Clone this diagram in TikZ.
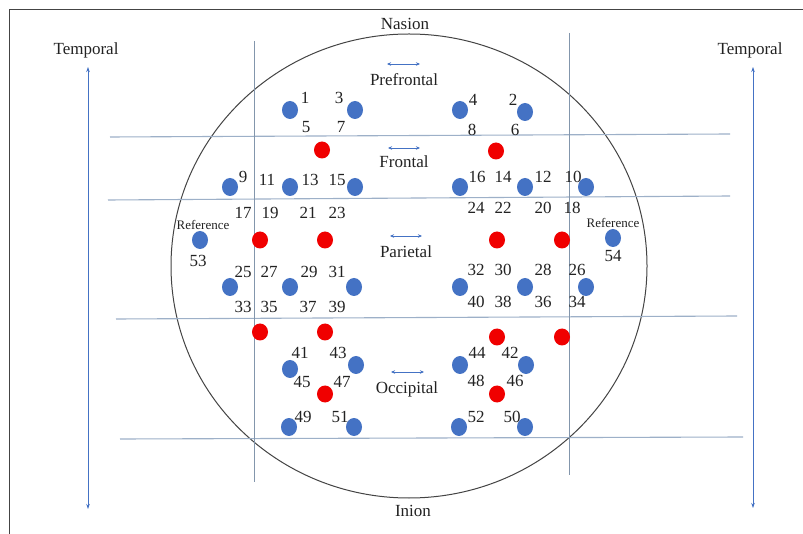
\documentclass[tikz,border=0pt]{standalone}
\usepackage{fontspec}
\setmainfont{Liberation Serif}
\usetikzlibrary{arrows.meta,shapes.geometric}
\definecolor{eblue}{HTML}{4472C4}
\definecolor{ered}{HTML}{F00000}
\definecolor{gridc}{HTML}{9DB0C8}
\definecolor{vgrid}{HTML}{8396AC}
\definecolor{framec}{HTML}{444444}
\definecolor{txt}{HTML}{222222}
\begin{document}
\begin{tikzpicture}[x=1pt,y=-1pt,
  dotb/.style={ellipse,fill=eblue,minimum width=16pt,minimum height=18pt,inner sep=0},
  dotr/.style={ellipse,fill=ered,minimum width=16pt,minimum height=17pt,inner sep=0},
  lbl/.style={font=\fontsize{17}{17}\selectfont,text=txt,inner sep=0},
  small/.style={font=\fontsize{13}{13}\selectfont,text=txt,inner sep=0},
  hline/.style={draw=gridc,line width=1.1pt},
  vline/.style={draw=vgrid,line width=0.9pt},
  tarrow/.style={draw=eblue,line width=0.7pt,{Stealth[length=5pt,width=3.5pt]}-{Stealth[length=5pt,width=3.5pt]}},
  rarrow/.style={draw=eblue,line width=0.7pt,{Stealth[length=4pt,width=3.5pt]}-{Stealth[length=4pt,width=3.5pt]}}
]
\useasboundingbox (0,0) rectangle (803,534);
\fill[white] (0,0) rectangle (803,534);
% frame (partial)
\coordinate (f1) at (9.5,534);
\coordinate (f2) at (9.5,9);
\coordinate (f3) at (803,9);
\draw[framec,line width=0.9pt] (f1) -- (f2) -- (f3);
% head outline
\draw[framec,line width=1pt] (409,266) ellipse [x radius=238, y radius=232];
% grid lines
\coordinate (h1a) at (110,137); \coordinate (h1b) at (730,134);
\coordinate (h2a) at (108,200); \coordinate (h2b) at (730,196);
\coordinate (h3a) at (116,319); \coordinate (h3b) at (737,316);
\coordinate (h4a) at (120,439); \coordinate (h4b) at (743,437);
\draw[hline] (h1a) -- (h1b);
\draw[hline] (h2a) -- (h2b);
\draw[hline] (h3a) -- (h3b);
\draw[hline] (h4a) -- (h4b);
\coordinate (v1a) at (254,41); \coordinate (v1b) at (254,482);
\coordinate (v2a) at (569,33); \coordinate (v2b) at (569,475);
\draw[vline] (v1a) -- (v1b);
\draw[vline] (v2a) -- (v2b);
% temporal arrows
\coordinate (tl1) at (88,67); \coordinate (tl2) at (88,509);
\coordinate (tr1) at (753,67); \coordinate (tr2) at (753,508);
\draw[tarrow] (tl1) -- (tl2);
\draw[tarrow] (tr1) -- (tr2);
\node[lbl] (templ) at (86,50) {Temporal};
\node[lbl] (tempr) at (750,50) {Temporal};
\node[lbl] (nasion) at (405,24) {Nasion};
\node[lbl] (inion) at (413,511) {Inion};
% region labels
\coordinate (pa1) at (387,64); \coordinate (pa2) at (420,64);
\draw[rarrow] (pa1) -- (pa2);
\node[lbl] (pref) at (404,80) {Prefrontal};
\coordinate (fa1) at (388,148); \coordinate (fa2) at (420,148);
\draw[rarrow] (fa1) -- (fa2);
\node[lbl] (front) at (404,162) {Frontal};
\coordinate (ra1) at (390,236); \coordinate (ra2) at (422,236);
\draw[rarrow] (ra1) -- (ra2);
\node[lbl] (pari) at (406,252) {Parietal};
\coordinate (oa1) at (391,372); \coordinate (oa2) at (424,372);
\draw[rarrow] (oa1) -- (oa2);
\node[lbl] (occ) at (407,389) {Occipital};
% blue electrodes
\node[dotb] (b1) at (290,110) {};
\node[dotb] (b3) at (355,110) {};
\node[dotb] (b4) at (460,110) {};
\node[dotb] (b2) at (525,112) {};
\node[dotb] (b9) at (230,187) {};
\node[dotb] (b13) at (290,187) {};
\node[dotb] (b15) at (355,187) {};
\node[dotb] (b16) at (460,187) {};
\node[dotb] (b14) at (525,187) {};
\node[dotb] (b10) at (586,187) {};
\node[dotb] (b53) at (200,240) {};
\node[dotb] (b54) at (613,238) {};
\node[dotb] (b25) at (230,287) {};
\node[dotb] (b29) at (290,287) {};
\node[dotb] (b31) at (354,287) {};
\node[dotb] (b32) at (460,287) {};
\node[dotb] (b30) at (525,287) {};
\node[dotb] (b26) at (586,287) {};
\node[dotb] (b41) at (290,369) {};
\node[dotb] (b43) at (356,365) {};
\node[dotb] (b44) at (460,365) {};
\node[dotb] (b42) at (526,365) {};
\node[dotb] (b49) at (289,427) {};
\node[dotb] (b51) at (354,427) {};
\node[dotb] (b52) at (459,427) {};
\node[dotb] (b50) at (525,427) {};
% red electrodes
\node[dotr] (r1) at (322,150) {};
\node[dotr] (r2) at (496,151) {};
\node[dotr] (r3) at (260,240) {};
\node[dotr] (r4) at (325,240) {};
\node[dotr] (r5) at (497,240) {};
\node[dotr] (r6) at (562,240) {};
\node[dotr] (r7) at (260,332) {};
\node[dotr] (r8) at (325,332) {};
\node[dotr] (r9) at (497,337) {};
\node[dotr] (r10) at (562,337) {};
\node[dotr] (r11) at (325,394) {};
\node[dotr] (r12) at (497,394) {};
% number labels
\foreach \t/\x/\y in {1/305/98,3/339/98,5/306/127,7/341/127,
  4/473/100,2/513/100,8/472/130,6/515/130,
  9/243/177,11/267/180,13/310/180,15/337/180,
  16/477/177,14/503/177,12/543/177,10/573/177,
  17/243/213,19/270/213,21/308/213,23/337/213,
  24/476/208,22/503/208,20/543/208,18/572/208,
  53/198/261,54/613/256,
  25/243/272,27/269/272,29/309/272,31/337/272,
  32/476/270,30/503/270,28/543/270,26/577/270,
  33/243/307,35/269/307,37/308/307,39/337/307,
  40/476/302,38/503/302,36/543/302,34/577/302,
  41/300/353,43/338/353,45/302/382,47/342/382,
  44/477/353,42/510/353,48/476/381,46/515/381,
  49/303/417,51/340/417,52/476/417,50/512/417}
  \node[lbl] (n\t) at (\x,\y) {\t};
\node[small] (refl) at (203,225) {Reference};
\node[small] (refr) at (613,223) {Reference};
\end{tikzpicture}
\end{document}
